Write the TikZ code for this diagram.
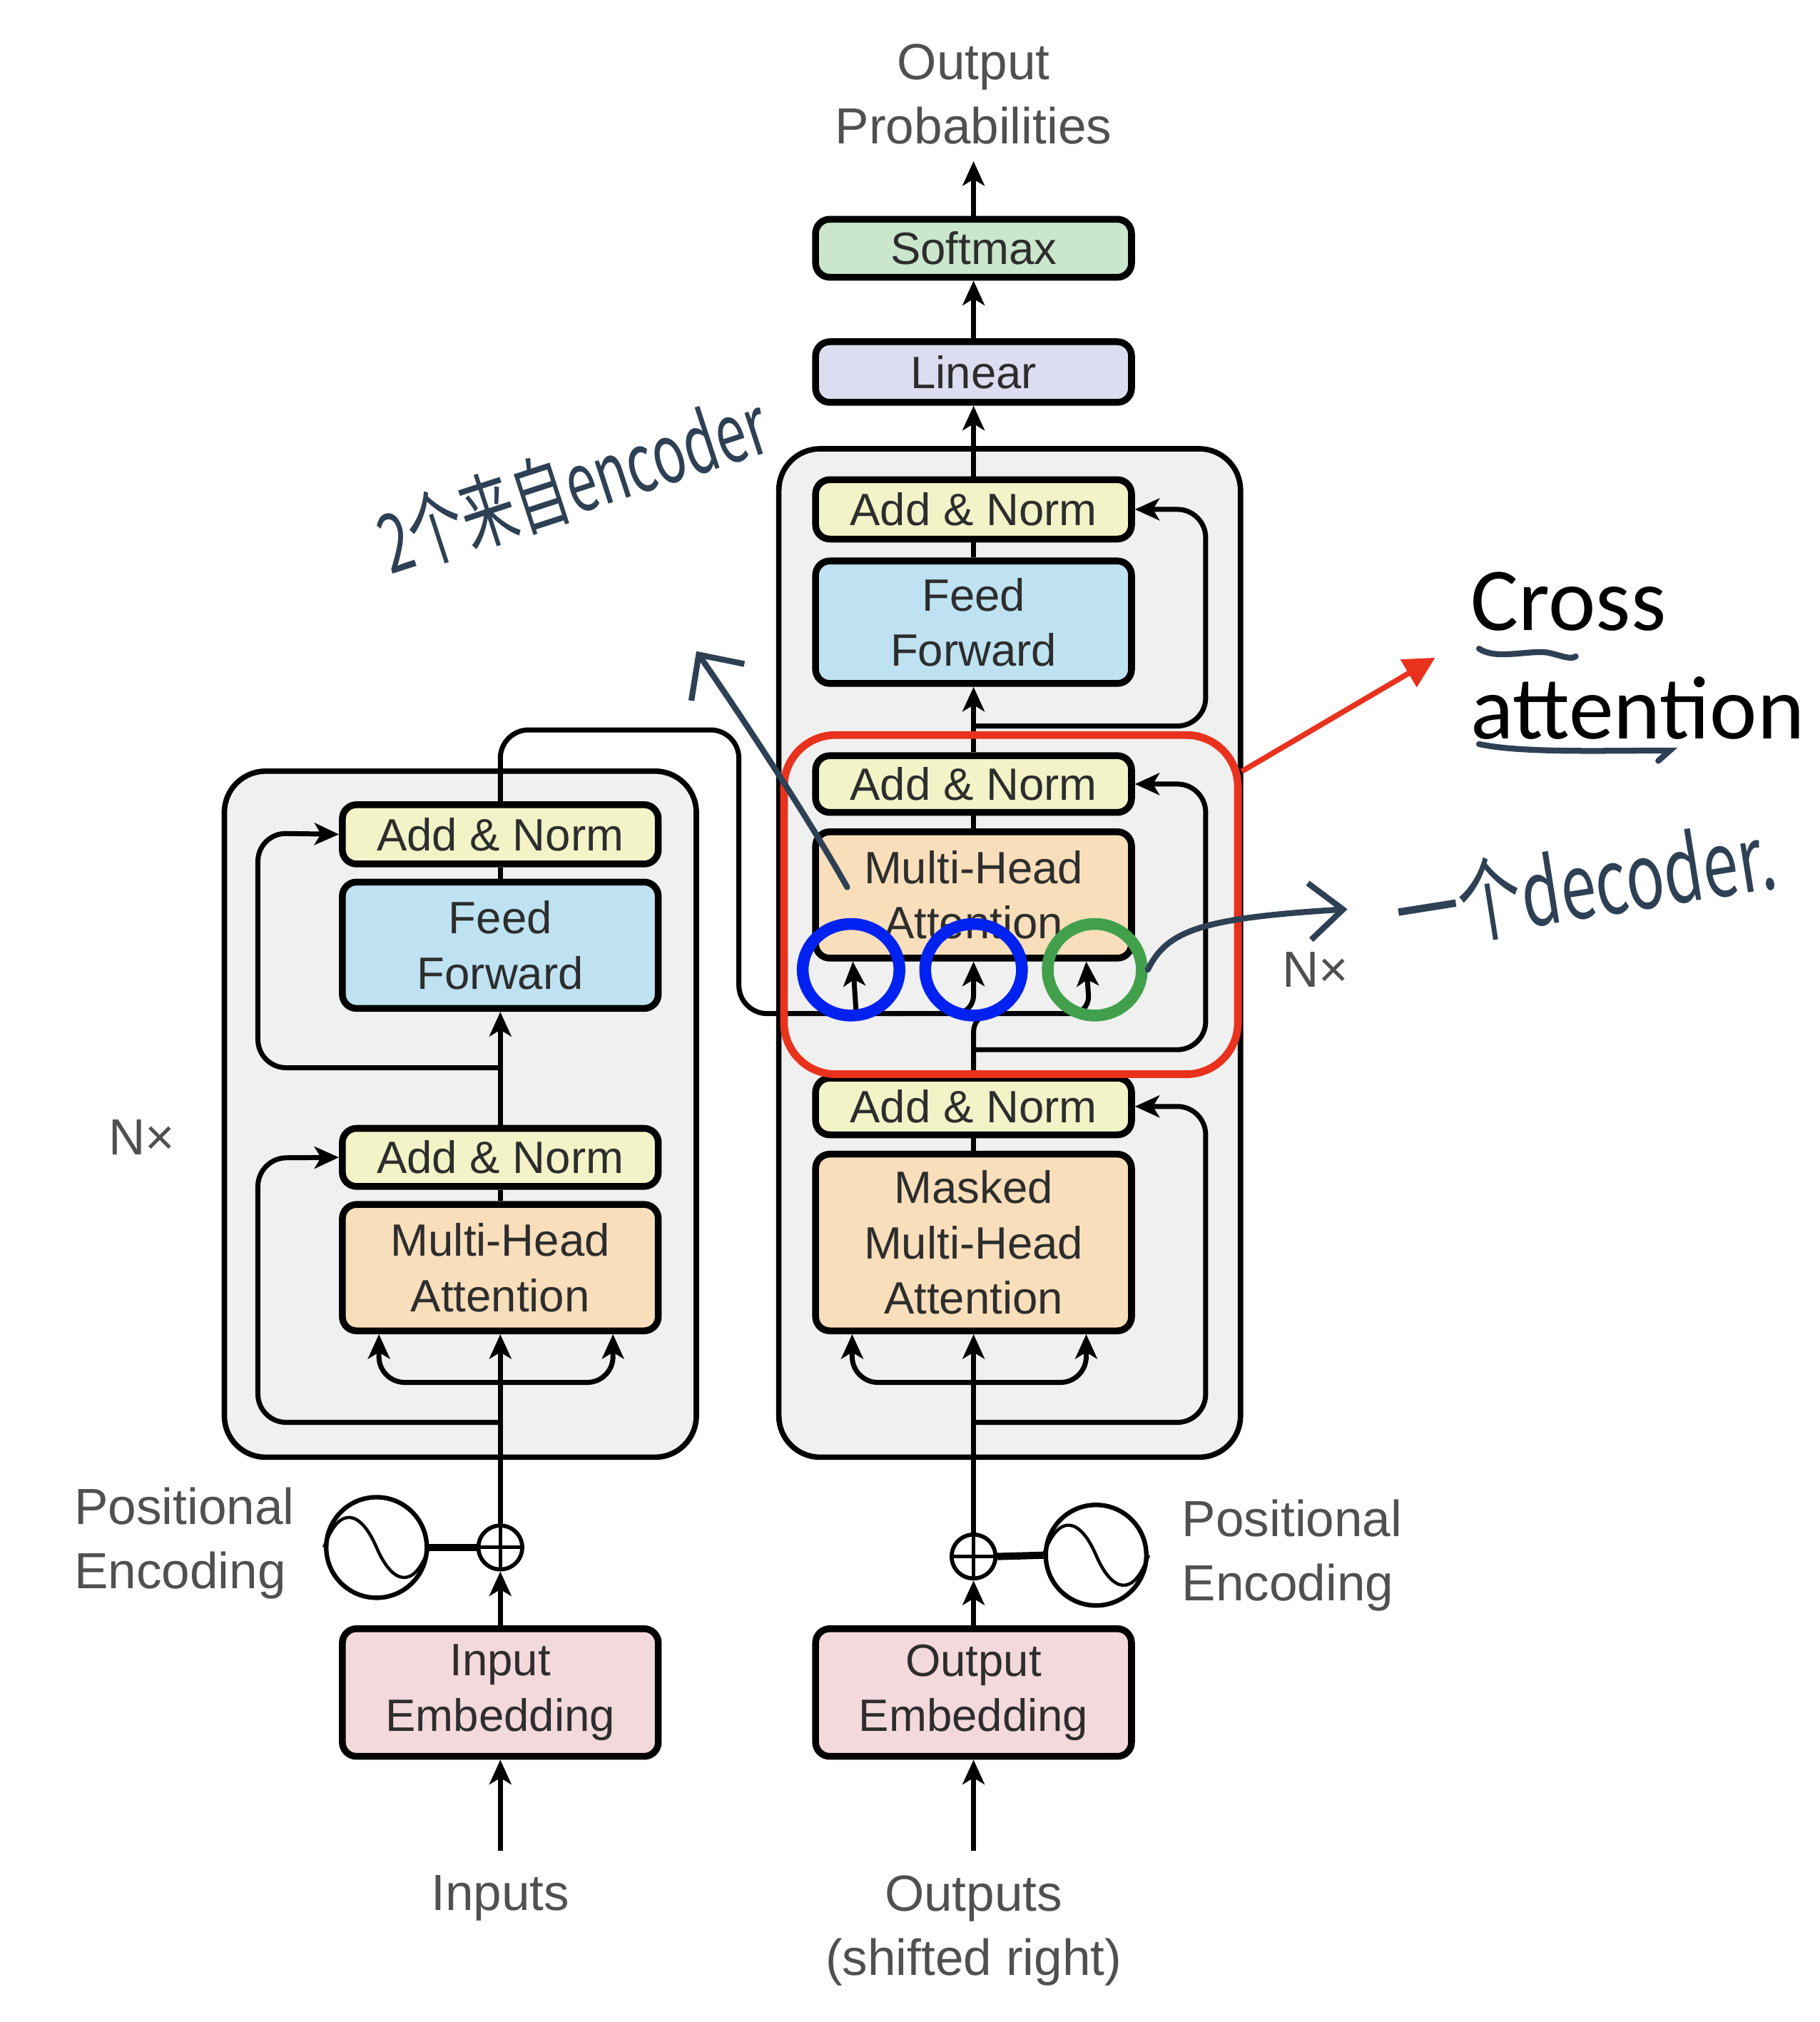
\documentclass[tikz,border=0pt]{standalone}
\usepackage{fontspec}
\setmainfont{Liberation Sans}
\newfontfamily\cjkhandA[FakeStretch=0.67]{Noto Sans CJK SC}
\newfontfamily\cjkhandB[FakeStretch=0.7]{Noto Sans CJK SC}
\newfontfamily\calib{Carlito}
\usetikzlibrary{arrows.meta,calc,shapes.geometric}

\definecolor{addc}{RGB}{242,244,200}
\definecolor{ffc}{RGB}{190,226,242}
\definecolor{mhac}{RGB}{248,222,186}
\definecolor{embc}{RGB}{243,216,220}
\definecolor{softc}{RGB}{202,230,204}
\definecolor{linc}{RGB}{220,221,240}
\definecolor{grayc}{RGB}{240,240,240}
\definecolor{txtc}{RGB}{45,45,45}
\definecolor{lblc}{RGB}{80,80,80}
\definecolor{inkc}{RGB}{46,64,84}
\definecolor{redc}{RGB}{233,50,30}
\definecolor{bluec}{RGB}{0,34,240}
\definecolor{greenc}{RGB}{66,160,76}

\begin{document}
\begin{tikzpicture}[x=0.1mm,y=-0.1mm,
  blk/.style={draw=black, line width=1.5pt, rounded corners=1.1mm, minimum width=24.5mm,
    inner sep=0pt, align=center, text=txtc, font=\fontsize{10}{12.2}\selectfont},
  graybox/.style={draw=black, fill=grayc, line width=1.2pt, rounded corners=3.2mm},
  conn/.style={line width=1.1pt},
  arr/.style={conn, -{Stealth[length=1.9mm,width=1.7mm,inset=0.5mm]}},
  lbl/.style={text=lblc, align=center, font=\fontsize{11.2}{14.2}\selectfont, inner sep=0pt},
  plusnode/.style={draw, circle, line width=0.9pt, minimum size=3.4mm, inner sep=0pt, fill=white},
  sinenode/.style={draw, circle, line width=1pt, minimum size=7.8mm, inner sep=0pt, fill=white},
  ring/.style={ellipse, line width=2.6pt, minimum width=7.5mm, minimum height=7.1mm, inner sep=0pt},
  ink/.style={inkc, line width=1.3pt, line cap=round}
]
\useasboundingbox (0,0) rectangle (1411,1568);

% containers
\draw[graybox] (604,348) rectangle (962,1130);
\draw[graybox] (174,598) rectangle (540,1130);

% top
\node[lbl] (oprob) at (755,73) {Output\\Probabilities};
\node[blk, fill=softc, minimum height=4.5mm] (soft) at (755,192.5) {Softmax};
\node[blk, fill=linc, minimum height=4.7mm] (lin) at (755,288.5) {Linear};

% decoder
\node[blk, fill=addc, minimum height=4.6mm] (dan3) at (755,395) {Add \& Norm};
\node[blk, fill=ffc, minimum height=9.5mm] (dff) at (755,482.5) {Feed\\Forward};
\node[blk, fill=addc, minimum height=4.4mm] (dan2) at (755,608) {Add \& Norm};
\node[blk, fill=mhac, minimum height=9.8mm] (dmha) at (755,694) {Multi-Head\\Attention};
\node[blk, fill=addc, minimum height=4.4mm] (dan1) at (755,858) {Add \& Norm};
\node[blk, fill=mhac, minimum height=13.7mm] (dmm) at (755,963.5) {Masked\\Multi-Head\\Attention};
\node[blk, fill=embc, minimum height=9.9mm] (demb) at (755,1312.5) {Output\\Embedding};
\node[plusnode] (dplus) at (755,1207) {};
\node[sinenode] (dsin) at (850,1206) {};

% encoder
\node[blk, fill=addc, minimum height=4.6mm] (ean2) at (388,647) {Add \& Norm};
\node[blk, fill=ffc, minimum height=9.8mm] (eff) at (388,733) {Feed\\Forward};
\node[blk, fill=addc, minimum height=4.5mm] (ean1) at (388,897.5) {Add \& Norm};
\node[blk, fill=mhac, minimum height=9.8mm] (emha) at (388,983) {Multi-Head\\Attention};
\node[blk, fill=embc, minimum height=9.9mm] (eemb) at (388,1312.5) {Input\\Embedding};
\node[plusnode] (eplus) at (388,1200) {};
\node[sinenode] (esin) at (292,1200) {};

% labels
\node[lbl, anchor=west, align=left] (epos) at (57,1197) {Positional\\Encoding};
\node[lbl, anchor=west, align=left] (dpos) at (916,1206) {Positional\\Encoding};
\node[lbl] (inputs) at (388,1472) {Inputs};
\node[lbl] (outputs) at (755,1497) {Outputs\\(shifted right)};
\node[lbl] (enx) at (110,882) {N×};
\node[lbl] (dnx) at (1020,752) {N×};

% plus signs and sine waves
\draw[line width=0.8pt] (eplus.north) -- (eplus.south) (eplus.west) -- (eplus.east);
\draw[line width=0.8pt] (dplus.north) -- (dplus.south) (dplus.west) -- (dplus.east);
\draw[line width=0.7pt] (esin.west) .. controls +(12,-34) and +(-12,-28) .. (esin.center)
  .. controls +(12,28) and +(-12,34) .. (esin.east);
\draw[line width=0.7pt] (dsin.west) .. controls +(12,-34) and +(-12,-28) .. (dsin.center)
  .. controls +(12,28) and +(-12,34) .. (dsin.east);
\draw[line width=1.6pt] (esin.east) -- (eplus.west);
\draw[line width=1.6pt] (dsin.west) -- (dplus.east);

% coordinates
\coordinate (otop) at (755,125);
\coordinate (ein) at (388,1435);
\coordinate (dout) at (755,1435);
\coordinate (efork) at (388,1072);
\coordinate (eres1) at (388,1103);
\coordinate (eres2) at (388,828);
\coordinate (dfork) at (755,1072);
\coordinate (dres1) at (755,1103);
\coordinate (dres2) at (755,814);
\coordinate (dres3) at (755,563);
\coordinate (kbr) at (664,786);
\coordinate (vturn) at (755,786);

% decoder connectors
\draw[arr] (soft.north) -- (otop);
\draw[arr] (lin.north) -- (soft.south);
\draw[arr] (dan3.north) -- (lin.south);
\draw[conn] (dff.north) -- (dan3.south);
\draw[arr] (dan2.north) -- (dff.south);
\draw[conn] (dmha.north) -- (dan2.south);
\draw[conn] (dmm.north) -- (dan1.south);
\draw[arr] (dplus.north) -- (dmm.south);
\draw[arr, rounded corners=2mm] (dfork) -| ($(dmm.south west)+(31,0)$);
\draw[arr, rounded corners=2mm] (dfork) -| ($(dmm.south west)+(212.5,0)$);
\draw[arr, rounded corners=2.2mm] (dres1) -- (935,1103) -- (935,858) -- (dan1.east);
\draw[arr, rounded corners=2.2mm] (dres2) -- (935,814) -- (935,608) -- (dan2.east);
\draw[arr, rounded corners=2.2mm] (dres3) -- (935,563) -- (935,395) -- (dan3.east);
\draw[arr, rounded corners=1.4mm] (dan1.north) -- (vturn) -- (845,786) -- ($(dmha.south west)+(212.5,0)$);
\draw[arr] (demb.north) -- (dplus.south);
\draw[arr] (dout) -- (demb.south);

% encoder connectors
\draw[conn] (eff.north) -- (ean2.south);
\draw[arr] (ean1.north) -- (eff.south);
\draw[conn] (emha.north) -- (ean1.south);
\draw[arr] (eplus.north) -- (emha.south);
\draw[arr, rounded corners=2mm] (efork) -| ($(emha.south west)+(31,0)$);
\draw[arr, rounded corners=2mm] (efork) -| ($(emha.south west)+(212.5,0)$);
\draw[arr, rounded corners=2.2mm] (eres1) -- (200,1103) -- (200,898) -- (ean1.west);
\draw[arr, rounded corners=2.2mm] (eres2) -- (200,828) -- (200,646) -- (ean2.west);
\draw[arr] (eemb.north) -- (eplus.south);
\draw[arr] (ein) -- (eemb.south);

% encoder output into cross attention
\draw[conn, rounded corners=2.2mm] (ean2.north) -- (388,566) -- (573,566) -- (573,786) -- (700,786);
\draw[arr, rounded corners=1.4mm] (690,786) -- (vturn) -- (dmha.south);
\draw[arr] (kbr) -- ($(dmha.south west)+(31.5,0)$);

% annotations
\node[draw=redc, line width=1.7pt, rounded corners=4mm, minimum width=35.2mm,
  minimum height=26.3mm, inner sep=0pt] (xbox) at (784,701.5) {};
\node[ring, draw=bluec] (c1) at (660,752) {};
\node[ring, draw=bluec] (c2) at (755,752) {};
\node[ring, draw=greenc, minimum width=7.3mm] (c3) at (849,752) {};

\node[anchor=base west, inner sep=0pt, font=\calib\fontsize{19.8}{24}\selectfont] (cross) at (1140,489) {Cross};
\node[anchor=base west, inner sep=0pt, font=\calib\fontsize{19.8}{24}\selectfont] (attn) at (1140,573) {attention};
\coordinate (redtip) at (1113,510);
\draw[redc, line width=1.2pt, -{Triangle[length=2.4mm,width=2.4mm]}] (xbox.30) -- (redtip);

\draw[ink] (1147,503) .. controls (1160,512) and (1185,504) .. (1200,506)
  .. controls (1210,508) and (1218,512) .. (1222,509);
\draw[ink] (1147,577) .. controls (1180,584) and (1240,582) .. (1295,582) -- (1286,590);

\node[anchor=base west, inner sep=0pt, text=inkc, rotate=18,
  font=\cjkhandA\fontsize{18}{20}\selectfont] (note1) at (302,446) {2个来自encoder};
\node[anchor=base west, inner sep=0pt, text=inkc, rotate=9,
  font=\cjkhandB\fontsize{20}{22}\selectfont] (note2) at (1086,735) {一个decoder.};

\coordinate (ink1s) at (657,688);
\coordinate (ink1e) at (540,505);
\draw[ink, -{Straight Barb[length=2.6mm,width=5mm]}] (ink1s) .. controls (630,640) and (585,570) .. (ink1e);
\coordinate (ink2e) at (1045,705);
\draw[ink, -{Straight Barb[length=2.6mm,width=4.4mm]}] (c3.east) .. controls (905,722) and (930,712) .. (ink2e);
\end{tikzpicture}
\end{document}
